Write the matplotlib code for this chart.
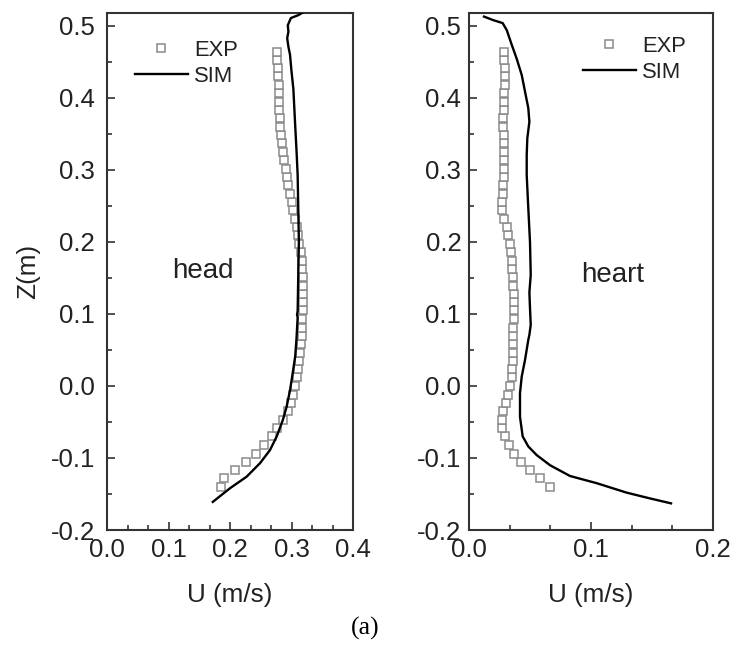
import matplotlib
matplotlib.use("Agg")
import matplotlib.pyplot as plt
from matplotlib.ticker import MultipleLocator, AutoMinorLocator, FormatStrFormatter

plt.rcParams['font.family'] = ['Liberation Sans', 'DejaVu Sans']
plt.rcParams['axes.unicode_minus'] = False

# Experimental sample heights (shared grid), m
z_exp = [-0.140, -0.128, -0.117, -0.105, -0.094, -0.082, -0.070, -0.059, -0.047, -0.035,
         -0.024, -0.012, 0.000, 0.012, 0.023, 0.035, 0.046, 0.058, 0.070, 0.081,
         0.093, 0.105, 0.116, 0.128, 0.139, 0.151, 0.163, 0.174, 0.186, 0.197,
         0.209, 0.221, 0.232, 0.244, 0.256, 0.267, 0.279, 0.290, 0.302, 0.314,
         0.325, 0.337, 0.348, 0.360, 0.372, 0.383, 0.395, 0.407, 0.418, 0.430,
         0.441, 0.453, 0.464]

head_exp_u = [0.185, 0.191, 0.208, 0.226, 0.242, 0.256, 0.268, 0.277, 0.286, 0.294,
              0.299, 0.303, 0.306, 0.3085, 0.310, 0.312, 0.314, 0.315, 0.3165, 0.317,
              0.3175, 0.318, 0.318, 0.318, 0.318, 0.318, 0.3177, 0.3166, 0.315, 0.3127,
              0.310, 0.3085, 0.3057, 0.303, 0.300, 0.2976, 0.295, 0.292, 0.2905, 0.288,
              0.286, 0.284, 0.283, 0.2818, 0.281, 0.2802, 0.2797, 0.279, 0.279, 0.2786,
              0.2775, 0.277, 0.276]

heart_exp_u = [0.066, 0.058, 0.050, 0.043, 0.037, 0.033, 0.0295, 0.0273, 0.0273, 0.028,
               0.030, 0.032, 0.034, 0.035, 0.0355, 0.036, 0.036, 0.0363, 0.0363, 0.0363,
               0.0369, 0.0369, 0.0369, 0.0369, 0.0363, 0.0358, 0.0355, 0.035, 0.0344, 0.0336,
               0.0322, 0.0309, 0.0285, 0.0273, 0.0273, 0.028, 0.0281, 0.029, 0.029, 0.029,
               0.029, 0.029, 0.0285, 0.0282, 0.0282, 0.0285, 0.029, 0.029, 0.0292, 0.0292,
               0.0292, 0.029, 0.029]

head_sim_u = [0.172, 0.200, 0.227, 0.249, 0.265, 0.276, 0.286, 0.292, 0.2976, 0.302,
              0.306, 0.308, 0.310, 0.309, 0.310, 0.311, 0.312, 0.311, 0.310, 0.3085,
              0.3057, 0.303, 0.300, 0.2976, 0.295, 0.293, 0.295, 0.294, 0.299, 0.311, 0.319]
head_sim_z = [-0.161, -0.142, -0.126, -0.107, -0.089, -0.070, -0.047, -0.029, -0.006, 0.018,
              0.041, 0.064, 0.095, 0.099, 0.104, 0.154, 0.200, 0.247, 0.293, 0.321,
              0.367, 0.413, 0.437, 0.460, 0.471, 0.483, 0.492, 0.501, 0.511, 0.515, 0.519]

heart_sim_u = [0.1656, 0.148, 0.129, 0.1047, 0.0828, 0.0664, 0.0555, 0.0486, 0.044, 0.0418,
               0.0418, 0.0432, 0.0459, 0.0486, 0.0495, 0.0506, 0.050, 0.0495, 0.0506, 0.050,
               0.0486, 0.0473, 0.0473, 0.0478, 0.0495, 0.0486, 0.0459, 0.0432, 0.039, 0.035,
               0.031, 0.0276, 0.020, 0.0123]
heart_sim_z = [-0.163, -0.156, -0.148, -0.135, -0.125, -0.110, -0.096, -0.084, -0.070, -0.043,
               -0.010, 0.013, 0.036, 0.064, 0.071, 0.085, 0.108, 0.130, 0.154, 0.200,
               0.247, 0.293, 0.321, 0.344, 0.367, 0.386, 0.409, 0.432, 0.455, 0.474,
               0.494, 0.504, 0.508, 0.513]

panels = [
    dict(name="head", exp=head_exp_u, sim_u=head_sim_u, sim_z=head_sim_z,
         xlim=(0.0, 0.4), xticks=[0.0, 0.1, 0.2, 0.3, 0.4],
         rect=[107/731, 1-530/648, 246/731, 517/648],
         label_xy=(0.156, 0.16), leg_anchor=(0.114, 0.948), ypad=8.5),
    dict(name="heart", exp=heart_exp_u, sim_u=heart_sim_u, sim_z=heart_sim_z,
         xlim=(0.0, 0.2), xticks=[0.0, 0.1, 0.2],
         rect=[469/731, 1-530/648, 244/731, 517/648],
         label_xy=(0.118, 0.154), leg_anchor=(0.467, 0.956), ypad=5.5),
]

fig = plt.figure(figsize=(7.31, 6.48), dpi=100)
txt_col = '#222222'
spine_col = '#333333'

for i, p in enumerate(panels):
    ax = fig.add_axes(p["rect"])
    ax.plot(p["exp"], z_exp, linestyle='none', marker='s', markersize=6.2,
            markerfacecolor='white', markeredgecolor='#8a8a8a', markeredgewidth=1.1,
            label='EXP', zorder=2)
    ax.plot(p["sim_u"], p["sim_z"], color='black', linewidth=1.7, label='SIM', zorder=3)
    ax.set_xlim(*p["xlim"])
    ax.set_ylim(-0.2, 0.518)
    ax.set_xticks(p["xticks"])
    ax.xaxis.set_minor_locator(AutoMinorLocator(3))
    ax.yaxis.set_major_locator(MultipleLocator(0.1))
    ax.yaxis.set_minor_locator(MultipleLocator(0.05))
    ax.xaxis.set_major_formatter(FormatStrFormatter('%.1f'))
    ax.yaxis.set_major_formatter(FormatStrFormatter('%.1f'))
    for s in ax.spines.values():
        s.set_color(spine_col)
        s.set_linewidth(1.5)
    ax.tick_params(which='both', direction='in', top=False, right=False,
                   colors=spine_col, labelcolor=txt_col, labelsize=18.5, width=1.2)
    ax.tick_params(which='major', length=6)
    ax.tick_params(which='minor', length=3.5)
    ax.tick_params(axis='x', which='major', pad=6)
    ax.tick_params(axis='y', which='major', pad=p["ypad"])
    ax.set_xlabel('U (m/s)', fontsize=18.8, color=txt_col, labelpad=15)
    if i == 0:
        ax.set_ylabel('Z(m)', fontsize=18.8, color=txt_col, labelpad=8)
    ax.text(p["label_xy"][0], p["label_xy"][1], p["name"], fontsize=20,
            color=txt_col, ha='center', va='center')
    leg = ax.legend(loc='upper left', bbox_to_anchor=p["leg_anchor"], frameon=False,
                    fontsize=15.8, handlelength=2.4, handletextpad=0.3,
                    labelspacing=0.22, borderpad=0, borderaxespad=0)
    for t in leg.get_texts():
        t.set_color(txt_col)

fig.text(365/731, 1-628/648, '(a)', fontsize=18.5, family=['Liberation Serif'],
         color='black', ha='center', va='center')

fig.savefig('out.png', dpi=100)
